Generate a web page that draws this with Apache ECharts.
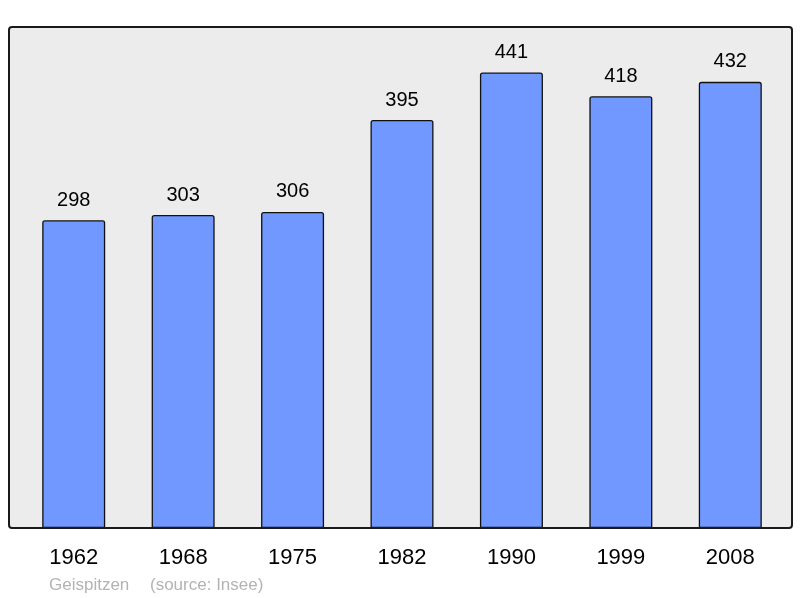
<!DOCTYPE html>
<html>
<head>
<meta charset="utf-8">
<script src="https://cdn.jsdelivr.net/npm/echarts@6/dist/echarts.min.js"></script>
<style>html,body{margin:0;padding:0;background:#fff}#c{width:800px;height:598px}</style>
</head>
<body>
<div id="c"></div>
<script>
const categories = ['1962','1968','1975','1982','1990','1999','2008'];
const values = [298, 303, 306, 395, 441, 418, 432];
const author = 'Geispitzen';
const source = '(source: Insee)';

const chart = echarts.init(document.getElementById('c'), null, {renderer: 'canvas'});
chart.setOption({
  animation: false,
  backgroundColor: '#ffffff',
  grid: {left: 19, right: 15, top: 27, bottom: 70, containLabel: false},
  xAxis: {
    type: 'category',
    data: categories,
    axisLine: {show: false},
    axisTick: {show: false},
    axisLabel: {fontSize: 22, color: '#000', fontFamily: 'Liberation Sans', margin: 19}
  },
  yAxis: {type: 'value', min: 0, max: 485.1, show: false, splitLine: {show: false}},
  graphic: [
    {type: 'rect', z: -10, shape: {x: 9, y: 27, width: 783, height: 501, r: 3},
     style: {fill: '#ececec', stroke: null}},
    {type: 'rect', z: 100, shape: {x: 9, y: 27, width: 783, height: 501, r: 3},
     style: {fill: null, stroke: '#1a1a1a', lineWidth: 2}},
    {type: 'text', left: 49, top: 577, style: {text: author, fill: '#b3b3b3', fontSize: 17, fontFamily: 'Liberation Sans'}},
    {type: 'text', left: 150, top: 577, style: {text: source, fill: '#b3b3b3', fontSize: 17, fontFamily: 'Liberation Sans'}}
  ],
  series: [{
    type: 'bar',
    data: values,
    barWidth: 63,
    itemStyle: {color: '#7098ff', borderColor: '#111', borderWidth: 1.3, borderRadius: [2, 2, 0, 0]},
    label: {show: true, position: 'top', distance: 10, fontSize: 20, color: '#000', fontFamily: 'Liberation Sans'}
  }]
});
</script>
</body>
</html>
